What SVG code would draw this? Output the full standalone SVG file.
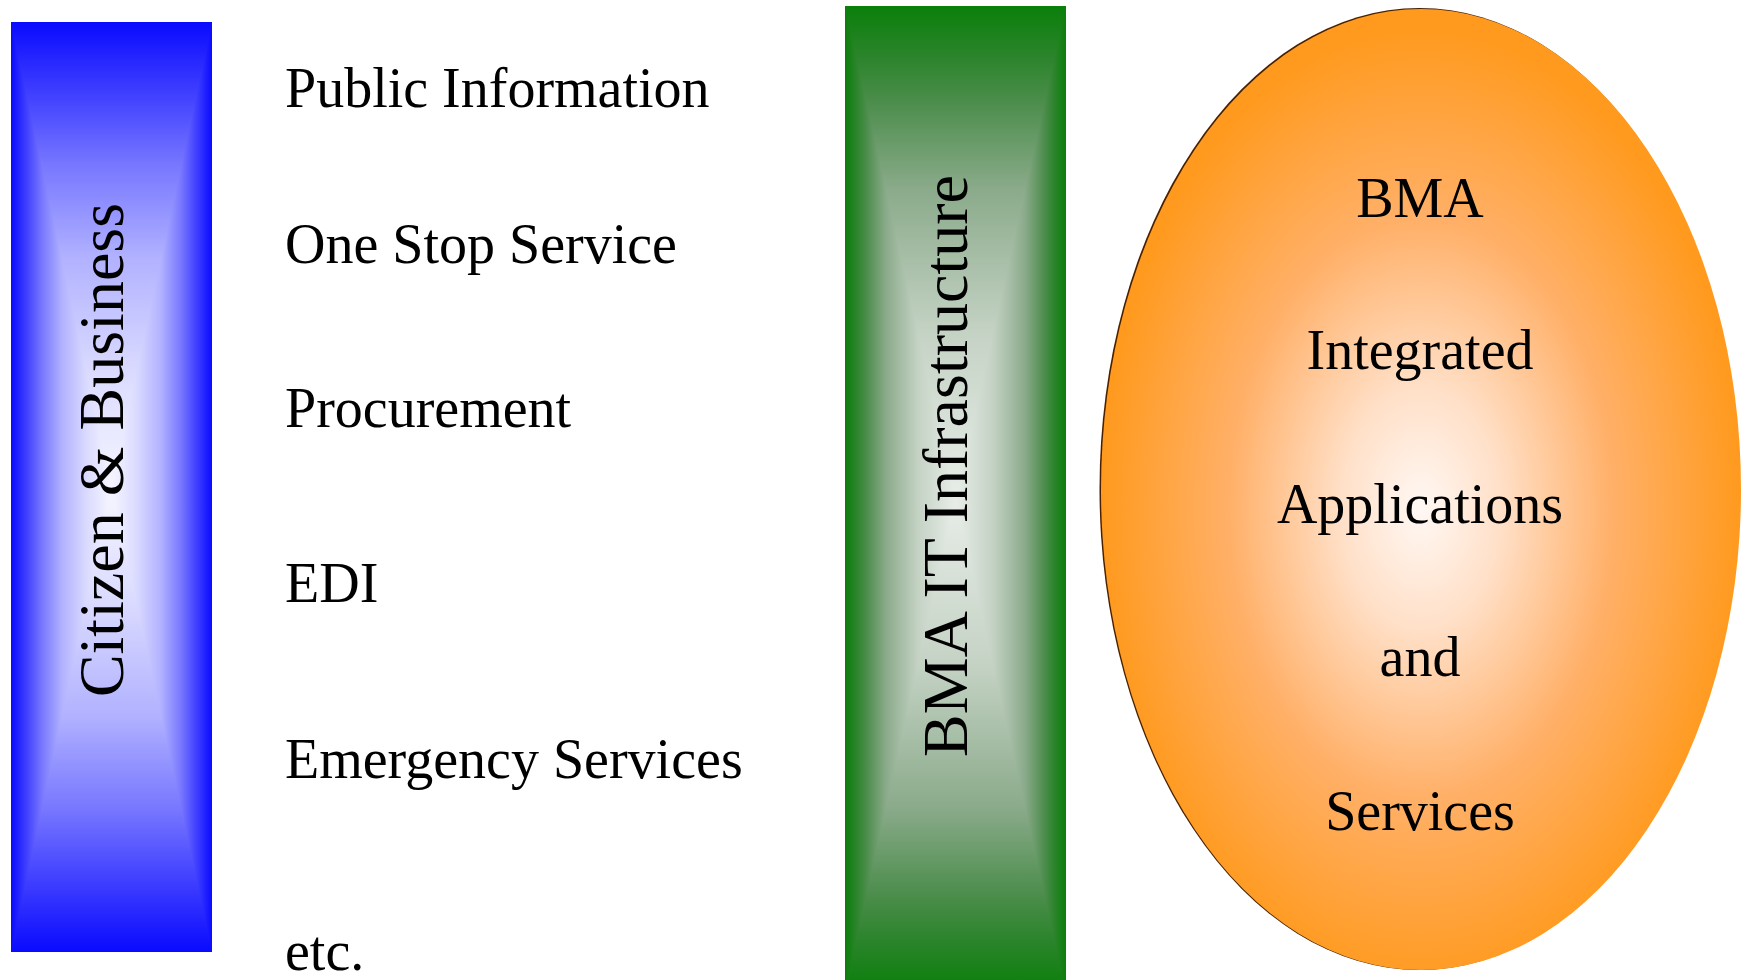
<svg xmlns="http://www.w3.org/2000/svg" width="1744" height="980" viewBox="0 0 1744 980">
<defs>
<linearGradient id="blueV" x1="0" y1="0" x2="0" y2="1">
<stop offset="0" stop-color="#0A0AFF"/>
<stop offset="0.085" stop-color="#4545FF"/>
<stop offset="0.155" stop-color="#7878FF"/>
<stop offset="0.225" stop-color="#A0A0FF"/>
<stop offset="0.25" stop-color="#B0B0FF"/>
<stop offset="0.375" stop-color="#DADAFF"/>
<stop offset="0.5" stop-color="#F6F6FF"/>
<stop offset="0.625" stop-color="#DADAFF"/>
<stop offset="0.75" stop-color="#B0B0FF"/>
<stop offset="0.775" stop-color="#A0A0FF"/>
<stop offset="0.845" stop-color="#7878FF"/>
<stop offset="0.915" stop-color="#4545FF"/>
<stop offset="1" stop-color="#0A0AFF"/>
</linearGradient>
<linearGradient id="blueL" gradientUnits="userSpaceOnUse" x1="11" y1="0" x2="111.5" y2="0">
<stop offset="0" stop-color="#0A0AFF"/>
<stop offset="0.17" stop-color="#4545FF"/>
<stop offset="0.31" stop-color="#7878FF"/>
<stop offset="0.45" stop-color="#A0A0FF"/>
<stop offset="0.5" stop-color="#B0B0FF"/>
<stop offset="0.75" stop-color="#DADAFF"/>
<stop offset="1" stop-color="#F6F6FF"/>
</linearGradient>
<linearGradient id="blueR" href="#blueL" gradientUnits="userSpaceOnUse" x1="212" y1="0" x2="111.5" y2="0"/>
<linearGradient id="greenV" x1="0" y1="0" x2="0" y2="1">
<stop offset="0" stop-color="#0A7F0A"/>
<stop offset="0.05" stop-color="#2A842A"/>
<stop offset="0.095" stop-color="#4A8C4A"/>
<stop offset="0.185" stop-color="#8AAA8A"/>
<stop offset="0.33" stop-color="#C4D2C4"/>
<stop offset="0.5" stop-color="#E8EDE8"/>
<stop offset="0.67" stop-color="#C4D2C4"/>
<stop offset="0.815" stop-color="#8AAA8A"/>
<stop offset="0.905" stop-color="#4A8C4A"/>
<stop offset="0.95" stop-color="#2A842A"/>
<stop offset="1" stop-color="#0A7F0A"/>
</linearGradient>
<linearGradient id="greenL" gradientUnits="userSpaceOnUse" x1="845" y1="0" x2="955.5" y2="0">
<stop offset="0" stop-color="#0A7F0A"/>
<stop offset="0.1" stop-color="#2A842A"/>
<stop offset="0.19" stop-color="#4A8C4A"/>
<stop offset="0.37" stop-color="#8AAA8A"/>
<stop offset="0.66" stop-color="#C4D2C4"/>
<stop offset="1" stop-color="#E8EDE8"/>
</linearGradient>
<linearGradient id="greenR" href="#greenL" gradientUnits="userSpaceOnUse" x1="1066" y1="0" x2="955.5" y2="0"/>
<radialGradient id="orange" cx="0.5" cy="0.52" r="0.5">
<stop offset="0" stop-color="#FFF8F4"/>
<stop offset="0.25" stop-color="#FFE0C8"/>
<stop offset="0.6" stop-color="#FFB068"/>
<stop offset="1" stop-color="#FF9A1E"/>
</radialGradient>
</defs>
<style>
.t{font-family:"Liberation Serif","Times New Roman",serif;font-size:56px;fill:#000}
.v{font-family:"Liberation Serif","Times New Roman",serif;font-size:64px;fill:#000}
</style>
<rect width="1744" height="980" fill="#FFFFFF"/>
<g id="citizen-business">
<rect x="11" y="22" width="201" height="930" fill="url(#blueV)"/>
<polygon points="11,22 111.5,487 11,952" fill="url(#blueL)"/>
<polygon points="212,22 111.5,487 212,952" fill="url(#blueR)"/>
<text class="v" transform="translate(123,450) rotate(-90)" text-anchor="middle">Citizen &amp; Business</text>
</g>
<g id="services-list">
<text class="t" x="285" y="107">Public Information</text>
<text class="t" x="285" y="263">One Stop Service</text>
<text class="t" x="285" y="427">Procurement</text>
<text class="t" x="285" y="602">EDI</text>
<text class="t" x="285" y="778">Emergency Services</text>
<text class="t" x="285" y="970">etc.</text>
</g>
<g id="bma-it-infrastructure">
<rect x="845" y="6" width="221" height="985" fill="url(#greenV)"/>
<polygon points="845,6 955.5,498.5 845,991" fill="url(#greenL)"/>
<polygon points="1066,6 955.5,498.5 1066,991" fill="url(#greenR)"/>
<text class="v" transform="translate(967,466) rotate(-90)" text-anchor="middle">BMA IT Infrastructure</text>
</g>
<g id="bma-applications">
<ellipse cx="1419.5" cy="489" rx="320" ry="481" fill="#4A2000"/>
<ellipse cx="1421" cy="489.5" rx="320" ry="480.5" fill="url(#orange)"/>
<text class="t" x="1420" y="217" text-anchor="middle">BMA</text>
<text class="t" x="1420" y="369" text-anchor="middle">Integrated</text>
<text class="t" x="1420" y="523" text-anchor="middle">Applications</text>
<text class="t" x="1420" y="676" text-anchor="middle">and</text>
<text class="t" x="1420" y="830" text-anchor="middle">Services</text>
</g>
<g id="connectors"/>
</svg>
